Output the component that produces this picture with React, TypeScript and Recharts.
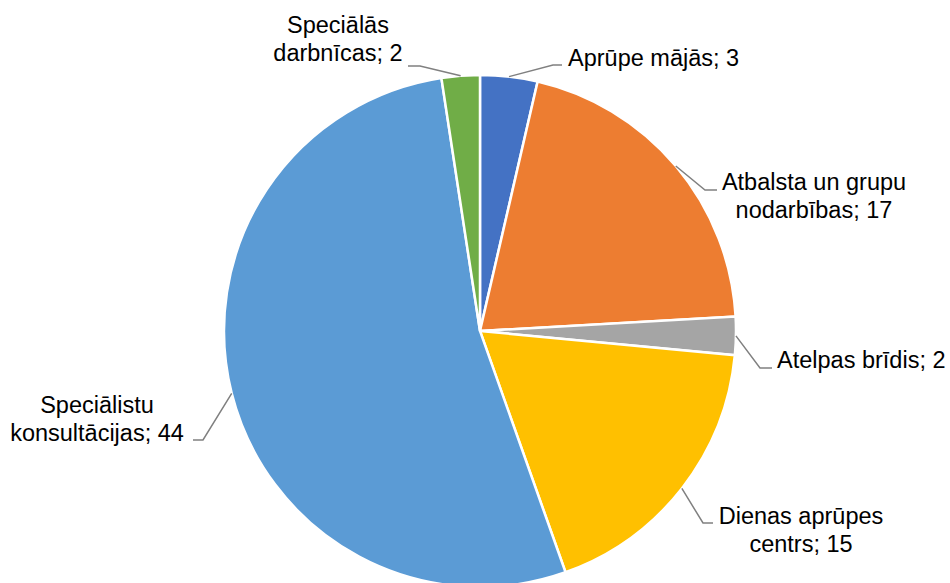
import { PieChart, Pie, Cell } from "recharts"

const categories = [
  "Aprūpe mājās",
  "Atbalsta un grupu nodarbības",
  "Atelpas brīdis",
  "Dienas aprūpes centrs",
  "Speciālistu konsultācijas",
  "Speciālās darbnīcas",
]
const values = [3, 17, 2, 15, 44, 2]
const labelLines = [
  ["Aprūpe mājās; 3"],
  ["Atbalsta un grupu", "nodarbības; 17"],
  ["Atelpas brīdis; 2"],
  ["Dienas aprūpes", "centrs; 15"],
  ["Speciālistu", "konsultācijas; 44"],
  ["Speciālās", "darbnīcas; 2"],
]

const COLORS = ["#4472C4", "#ED7D31", "#A5A5A5", "#FFC000", "#5B9BD5", "#70AD47"]

// leader elbow, end of short horizontal, text x (start or middle), first baseline
const LABEL_LAYOUT = [
  { ex: 553, ey: 65, hx: 562, tx: 568, ty: 66, anchor: "start" },
  { ex: 705, ey: 190, hx: 717, tx: 814, ty: 190, anchor: "middle" },
  { ex: 760, ey: 368, hx: 772, tx: 777, ty: 368, anchor: "start" },
  { ex: 703, ey: 523, hx: 713, tx: 801, ty: 524, anchor: "middle" },
  { ex: 203, ey: 440, hx: 193, tx: 97, ty: 413, anchor: "middle" },
  { ex: 420, ey: 66, hx: 408, tx: 338, ty: 33, anchor: "middle" },
]

const data = categories.map((name, i) => ({ name, value: values[i] }))

const RAD = Math.PI / 180
const FONT = "'Liberation Sans', Arial, sans-serif"

const renderLabel = (props: any) => {
  const { cx, cy, midAngle, outerRadius, index } = props
  const sx = cx + outerRadius * Math.cos(-midAngle * RAD)
  const sy = cy + outerRadius * Math.sin(-midAngle * RAD)
  const l = LABEL_LAYOUT[index]
  const lines = labelLines[index]
  return (
    <g key={`lbl-${index}`}>
      <polyline
        points={`${sx},${sy} ${l.ex},${l.ey} ${l.hx},${l.ey}`}
        fill="none"
        stroke="#808080"
        strokeWidth={1.5}
      />
      <text
        x={l.tx}
        y={l.ty}
        textAnchor={l.anchor}
        fontFamily={FONT}
        fontSize={23.5}
        fill="#000"
      >
        {lines.map((t, j) => (
          <tspan key={j} x={l.tx} dy={j === 0 ? 0 : 27.5}>
            {t}
          </tspan>
        ))}
      </text>
    </g>
  )
}

export default function App() {
  return (
    <div style={{ position: "absolute", left: 0, top: 0, width: 950, height: 583, background: "#fff" }}>
      <PieChart width={950} height={583} margin={{ top: 0, right: 0, bottom: 0, left: 0 }}>
        <Pie
          data={data}
          dataKey="value"
          nameKey="name"
          cx={480}
          cy={331}
          outerRadius={256}
          startAngle={90}
          endAngle={-270}
          stroke="#fff"
          strokeWidth={2.5}
          label={renderLabel}
          labelLine={false}
          isAnimationActive={false}
        >
          {data.map((_, i) => (
            <Cell key={`cell-${i}`} fill={COLORS[i]} />
          ))}
        </Pie>
      </PieChart>
    </div>
  )
}
